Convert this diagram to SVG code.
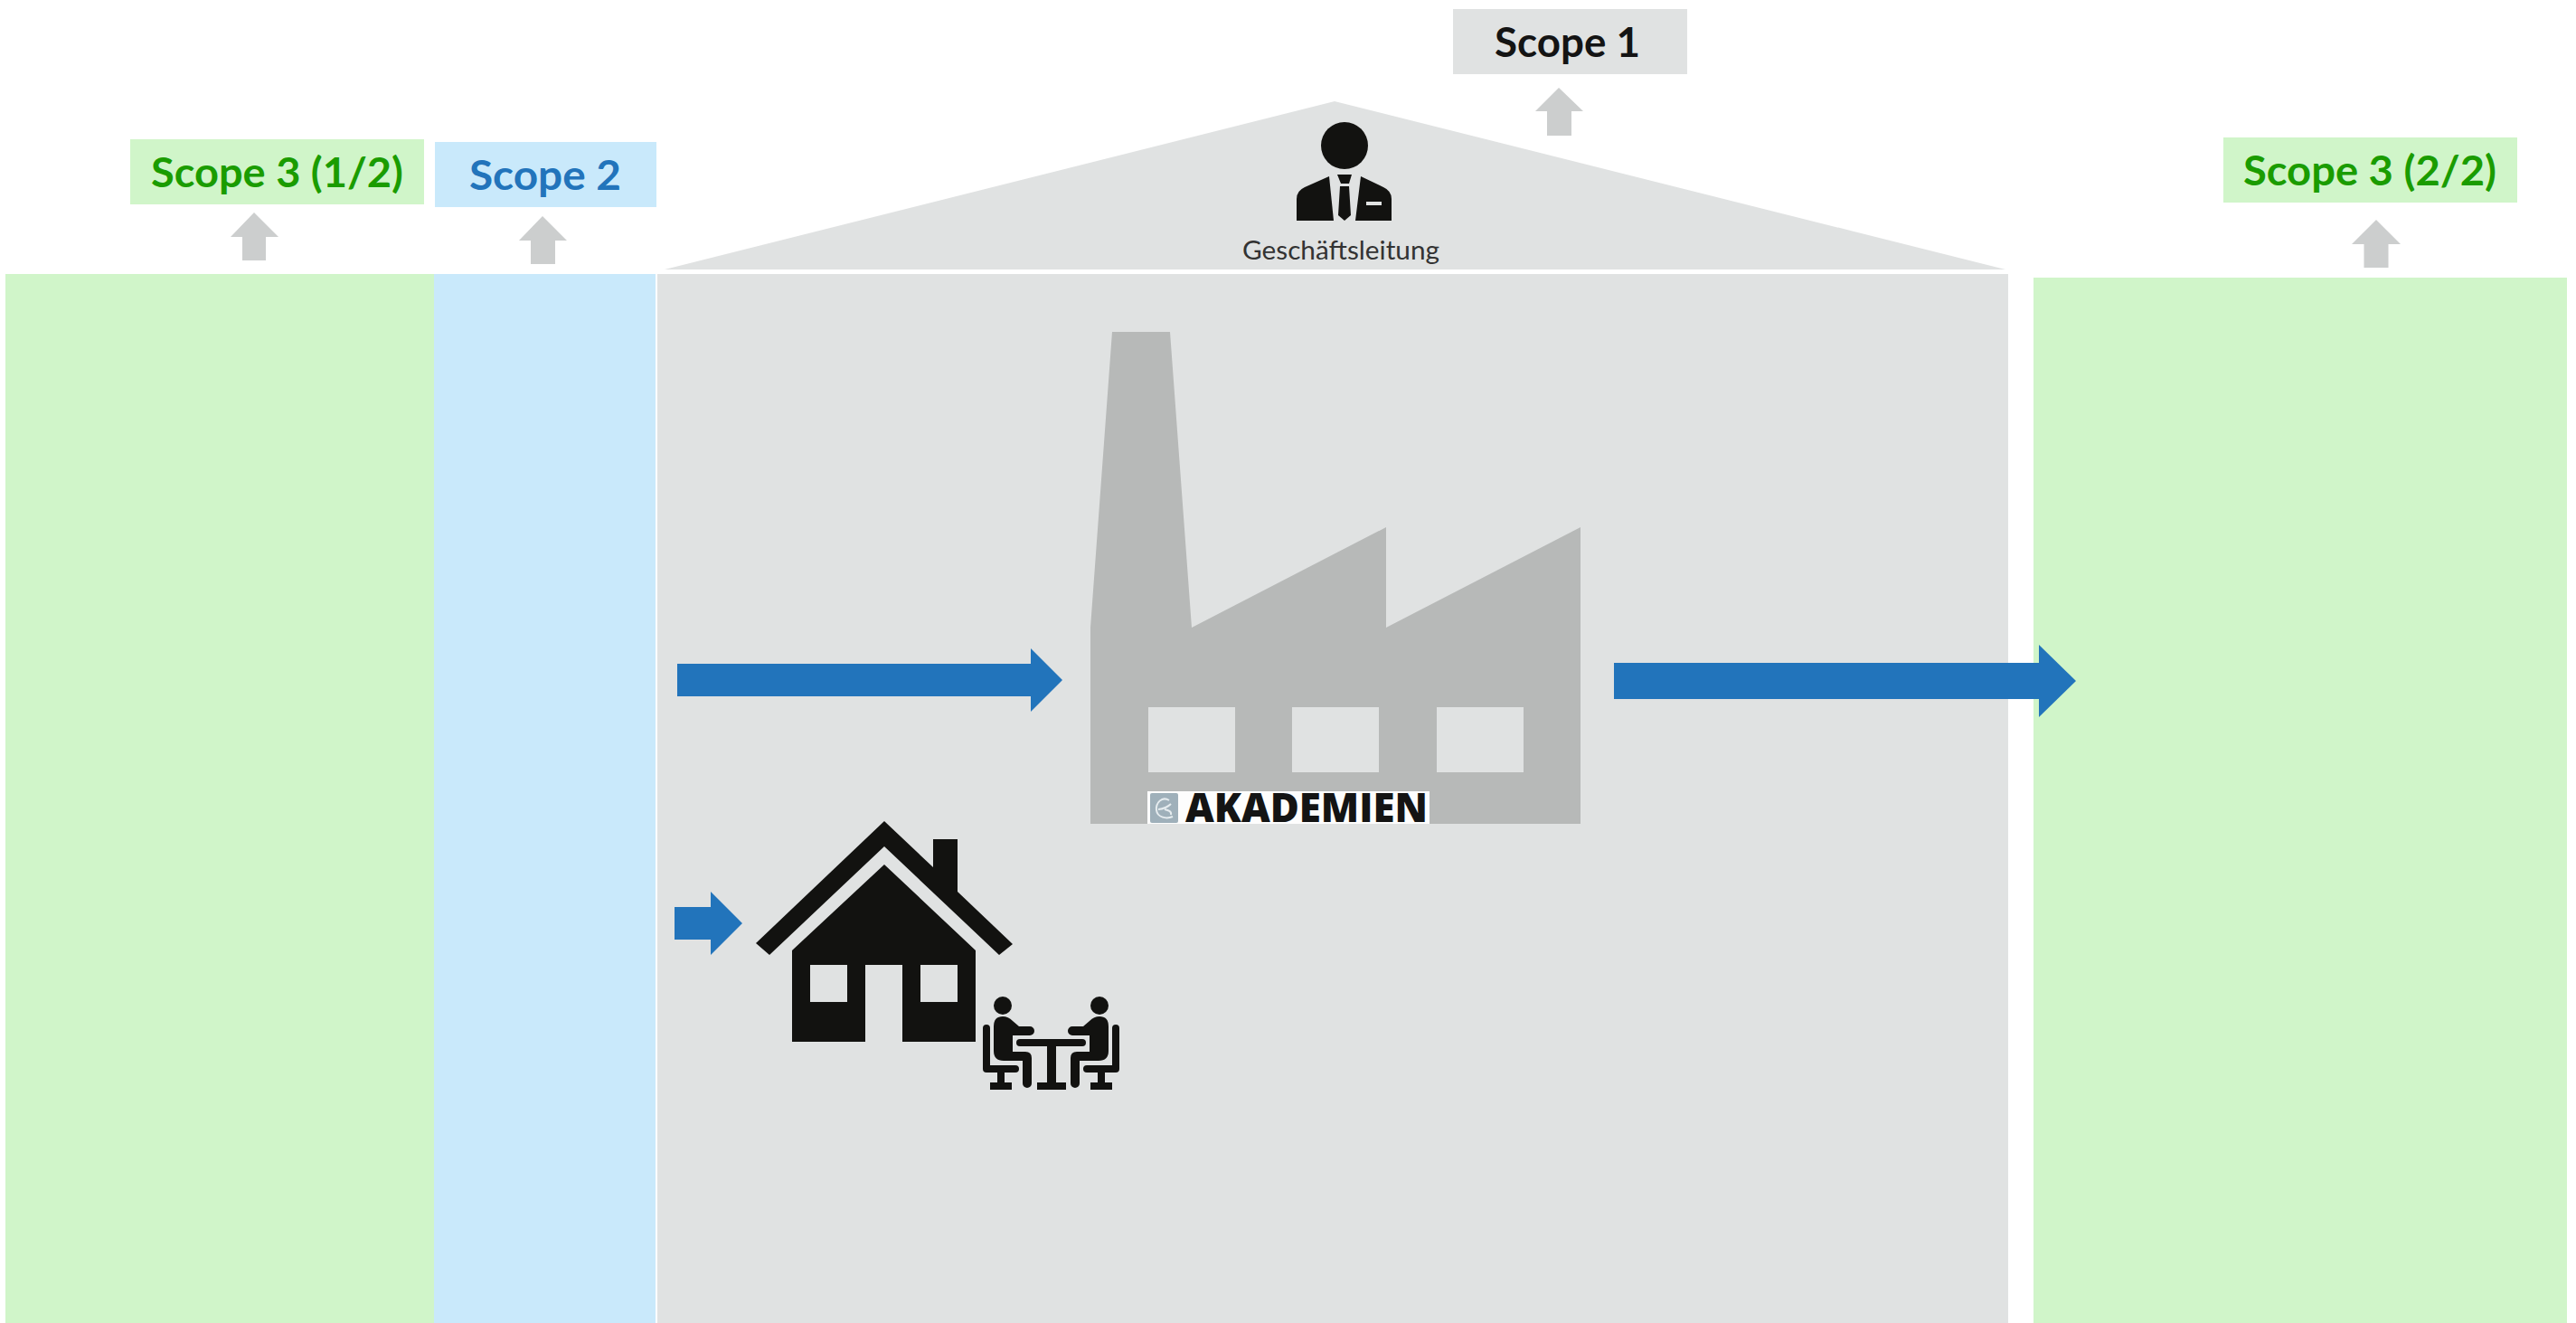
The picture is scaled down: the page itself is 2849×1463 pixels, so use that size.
<svg xmlns="http://www.w3.org/2000/svg" xmlns:xlink="http://www.w3.org/1999/xlink" width="2849" height="1463" viewBox="0 0 2849 1463">
<style>
.scope{font-family:"Lato","Open Sans","Liberation Sans",sans-serif;font-weight:700;font-size:46px}
.gt{fill:#1a9c00}.bt{fill:#2274bb}.kt{fill:#141414}
.gf{fill:#d0f5c9}.bf{fill:#c9e9fb}.yf{fill:#e0e2e2}
.up{fill:#cccece}.flow{fill:#2274bb}.ink{fill:#121210}.fact{fill:#b7b9b8}
.ln{stroke:#121210;fill:none;stroke-width:8;stroke-linecap:round;stroke-linejoin:round}
</style>
<defs>
<g id="sitter">
<circle cx="1109" cy="1112" r="10" class="ink"/>
<path class="ink" d="M1099 1135Q1099 1124 1109 1124Q1115 1124 1120 1129L1127 1135H1139a5 5 0 0 1 0 10H1120V1163H1134Q1141 1163 1141 1170V1198a5 5 0 0 1-10 0V1173H1110Q1099 1173 1099 1162Z"/>
<path class="ln" d="M1091 1137V1182H1123"/>
<rect class="ink" x="1103" y="1182" width="8" height="16"/>
<rect class="ink" x="1095" y="1197" width="24" height="8"/>
</g>
</defs>
<rect width="2849" height="1463" fill="#ffffff"/>
<g id="band-scope3-left"><rect class="gf" x="6" y="303" width="474" height="1160"/></g>
<g id="band-scope2"><rect class="bf" x="480" y="303" width="245" height="1160"/></g>
<g id="building">
<polygon class="yf" points="1476,112 2218,298 735,298"/>
<rect class="yf" x="727" y="303" width="1494" height="1160"/>
</g>
<g id="band-scope3-right"><rect class="gf" x="2249" y="307" width="590" height="1156"/></g>

<g id="label-scope3-1">
<rect class="gf" x="144" y="154" width="325" height="72"/>
<text class="scope gt" x="167" y="207" textLength="279" lengthAdjust="spacingAndGlyphs">Scope 3 (1/2)</text>
</g>
<g id="label-scope2">
<rect class="bf" x="481" y="157" width="245" height="72"/>
<text class="scope bt" x="519" y="210" textLength="168" lengthAdjust="spacingAndGlyphs">Scope 2</text>
</g>
<g id="label-scope1">
<rect class="yf" x="1607" y="10" width="259" height="72"/>
<text class="scope kt" x="1653" y="63" textLength="161" lengthAdjust="spacingAndGlyphs">Scope 1</text>
</g>
<g id="label-scope3-2">
<rect class="gf" x="2459" y="152" width="325" height="72"/>
<text class="scope gt" x="2481" y="205" textLength="280" lengthAdjust="spacingAndGlyphs">Scope 3 (2/2)</text>
</g>

<g id="management">
<circle class="ink" cx="1487" cy="161" r="26"/>
<path class="ink" d="M1434 244V220Q1434 211 1443 207L1470 195L1475 244Z"/>
<path class="ink" d="M1505 195L1530 207Q1539 211 1539 220V244H1499Z"/>
<polygon class="ink" points="1479,193 1495,193 1492,203 1483,203"/>
<polygon class="ink" points="1482,206 1492,206 1494,238 1487,244 1480,238"/>
<rect class="yf" x="1511" y="223" width="17" height="4"/>
<text x="1374" y="287" font-family="Lato,'Open Sans','Liberation Sans',sans-serif" font-weight="400" font-size="28" fill="#333" textLength="218" lengthAdjust="spacingAndGlyphs">Geschäftsleitung</text>
</g>

<g id="factory">
<path class="fact" d="M1206 911V694L1230 367H1294L1318 694L1533 583V694L1748 583V911Z"/>
<rect class="yf" x="1270" y="782" width="96" height="72"/>
<rect class="yf" x="1429" y="782" width="96" height="72"/>
<rect class="yf" x="1589" y="782" width="96" height="72"/>
<rect x="1269" y="875" width="312" height="36" fill="#fdfdfd"/>
<rect x="1272" y="877" width="31" height="33" rx="2" fill="#9fb0ba"/>
<path d="M1293 885C1285 880 1278 888 1279 896C1280 904 1290 906 1297 903M1281 895C1287 895 1293 891 1295 889M1288 895C1292 896 1296 897 1295 901" fill="none" stroke="#e6ecef" stroke-width="2"/>
<text x="1311" y="909" font-family="'Open Sans','Liberation Sans',sans-serif" font-weight="800" font-size="44" fill="#141414" textLength="268" lengthAdjust="spacingAndGlyphs">AKADEMIEN</text>
</g>

<g id="home">
<path class="ink" d="M978 908L1032 959V928H1059V986L1120 1044L1105 1056L978 936L851 1056L836 1043Z"/>
<path class="ink" fill-rule="evenodd" d="M978 956L1079 1051V1152H998V1067H957V1152H876V1051ZM896 1067V1108H937V1067ZM1018 1067V1108H1059V1067Z"/>
</g>

<g id="meeting">
<use xlink:href="#sitter" href="#sitter"/>
<use xlink:href="#sitter" href="#sitter" transform="translate(2325 0) scale(-1 1)"/>
<path class="ln" d="M1128 1153H1197"/>
<rect class="ink" x="1158" y="1153" width="10" height="46"/>
<rect class="ink" x="1147" y="1197" width="32" height="8"/>
</g>

<g id="connectors">
<polygon class="up" points="281,235 308,262 294,262 294,288 268,288 268,262 255,262"/>
<polygon class="up" points="600,239 627,266 614,266 614,292 587,292 587,266 574,266"/>
<polygon class="up" points="1724,97 1751,123 1738,123 1738,150 1711,150 1711,123 1698,123"/>
<polygon class="up" points="2628,243 2655,270 2641.500,270 2641.500,296 2614.500,296 2614.500,270 2601,270"/>
<polygon class="flow" points="749,734 1140,734 1140,717 1175,752 1140,787 1140,770 749,770"/>
<polygon class="flow" points="1785,733 2255,733 2255,713 2296,753 2255,793 2255,773 1785,773"/>
<polygon class="flow" points="746,1003 786,1003 786,986 821,1021 786,1056 786,1039 746,1039"/>
</g>
</svg>
